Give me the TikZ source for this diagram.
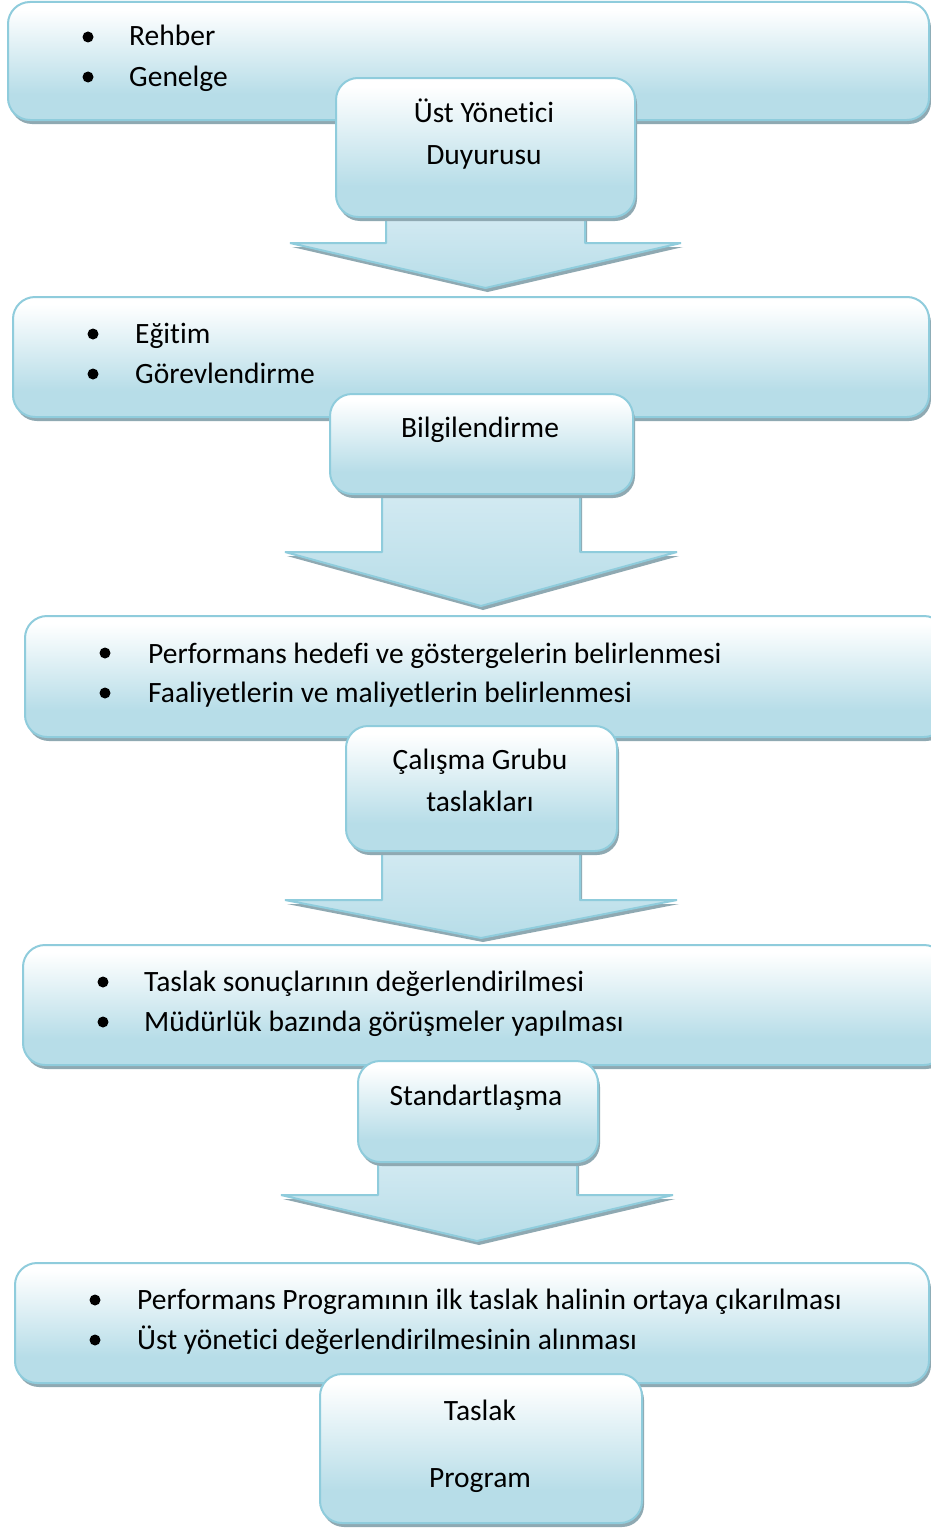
\documentclass[tikz,border=0pt]{standalone}
\usepackage{fontspec}
\setmainfont{Carlito}[Ligatures=NoCommon]
\definecolor{bblue}{HTML}{B7DDE8}
\definecolor{bmid}{HTML}{DDEFF4}
\definecolor{bline}{HTML}{8FCCDC}
\definecolor{bshadow}{HTML}{8FA9B2}
\definecolor{atop}{HTML}{D3EAF2}
\pgfdeclareverticalshading{boxshade}{100bp}{color(0bp)=(bblue); color(25bp)=(bblue); color(36bp)=(bblue); color(55bp)=(bmid); color(72bp)=(white); color(100bp)=(white)}
\pgfdeclareverticalshading{arrowshade}{100bp}{color(0bp)=(bblue); color(25bp)=(bblue); color(75bp)=(atop); color(100bp)=(atop)}
\tikzset{
  flow/.style={draw=bline, line width=2pt, shading=boxshade, rounded corners=22pt, anchor=north west, inner sep=0pt},
  shadowbox/.style={fill=bshadow, rounded corners=22pt},
  downarrow/.style={draw=bline, line width=2pt, shading=arrowshade, line join=bevel},
  shadowarrow/.style={fill=bshadow},
  txt/.style={font=\fontsize{29.5}{35}\selectfont, anchor=base west, inner sep=0pt},
  ctxt/.style={font=\fontsize{29.5}{35}\selectfont, anchor=base, inner sep=0pt},
  dot/.style={circle, fill=black, inner sep=0pt, minimum size=11pt}
}
\newcommand\flowbox[5]{%
  \fill[shadowbox] (#2+3,#3+5) rectangle (#4+3,#5+5);
  \node[flow, minimum width={(#4-#2)*1pt}, minimum height={(#5-#3)*1pt}] (#1) at (#2,#3) {};
}
% name, shaft left, shaft right, top y, head y, head left, head right, tip y
\newcommand\flowarrow[8]{%
  \fill[shadowarrow] (#2+2,#4) -- (#3+2,#4) -- (#3+2,#5+4) -- (#7+2,#5+4) -- ({(#6+#7)/2+2},#8+4) -- (#6+2,#5+4) -- (#2+2,#5+4) -- cycle;
  \path[downarrow] (#2,#4) -- (#3,#4) -- (#3,#5) -- (#7,#5) -- ({(#6+#7)/2},#8) -- (#6,#5) -- (#2,#5) -- cycle;
  \coordinate (#1) at ({(#6+#7)/2},#8);
}
\begin{document}
\begin{tikzpicture}[x=1pt,y=-1pt]
\useasboundingbox (0,0) rectangle (930,1528);
\fill[white] (0,0) rectangle (930,1528);

% ---- stage 1
\flowbox{b1}{7}{1}{928}{119}
\node[dot] (d1a) at (88,37) {};
\node[dot] (d1b) at (88,77) {};
\node[txt] (t1a) at (129,46) {Rehber};
\node[txt] (t1b) at (129,86) {Genelge};
\flowarrow{a1}{386}{585}{214}{243}{290}{681}{288}
\flowbox{s1}{335}{77}{634}{216}
\node[ctxt] (s1a) at (484,122) {Üst Yönetici};
\node[ctxt] (s1b) at (484,164) {Duyurusu};

% ---- stage 2
\flowbox{b2}{12}{296}{928}{416}
\node[dot] (d2a) at (93,334) {};
\node[dot] (d2b) at (93,374) {};
\node[txt] (t2a) at (135,343) {Eğitim};
\node[txt] (t2b) at (135,383) {Görevlendirme};
\flowarrow{a2}{382}{580}{490}{552}{285}{677}{606}
\flowbox{s2}{329}{393}{632}{493}
\node[ctxt] (s2a) at (480,437) {Bilgilendirme};

% ---- stage 3
\flowbox{b3}{24}{615}{945}{736}
\node[dot] (d3a) at (105,653) {};
\node[dot] (d3b) at (105,693) {};
\node[txt] (t3a) at (148,663) {Performans hedefi ve göstergelerin belirlenmesi};
\node[txt] (t3b) at (148,702) {Faaliyetlerin ve maliyetlerin belirlenmesi};
\flowarrow{a3}{382}{580}{848}{900}{285}{677}{938}
\flowbox{s3}{345}{725}{616}{850}
\node[ctxt] (s3a) at (480,769) {Çalışma Grubu};
\node[ctxt] (s3b) at (480,811) {taslakları};

% ---- stage 4
\flowbox{b4}{22}{944}{945}{1064}
\node[dot] (d4a) at (103,982) {};
\node[dot] (d4b) at (103,1022) {};
\node[txt] (t4a) at (144,991) {Taslak sonuçlarının değerlendirilmesi};
\node[txt] (t4b) at (144,1031) {Müdürlük bazında görüşmeler yapılması};
\flowarrow{a4}{378}{577}{1158}{1195}{281}{673}{1241}
\flowbox{s4}{357}{1060}{597}{1161}
\node[ctxt] (s4a) at (476,1105) {Standartlaşma};

% ---- stage 5
\flowbox{b5}{14}{1262}{928}{1382}
\node[dot] (d5a) at (95,1300) {};
\node[dot] (d5b) at (95,1340) {};
\node[txt] (t5a) at (137,1309) {Performans Programının ilk taslak halinin ortaya çıkarılması};
\node[txt] (t5b) at (137,1349) {Üst yönetici değerlendirilmesinin alınması};
\flowbox{s5}{319}{1373}{641}{1522}
\node[ctxt] (s5a) at (480,1420) {Taslak};
\node[ctxt] (s5b) at (480,1487) {Program};
\end{tikzpicture}
\end{document}
